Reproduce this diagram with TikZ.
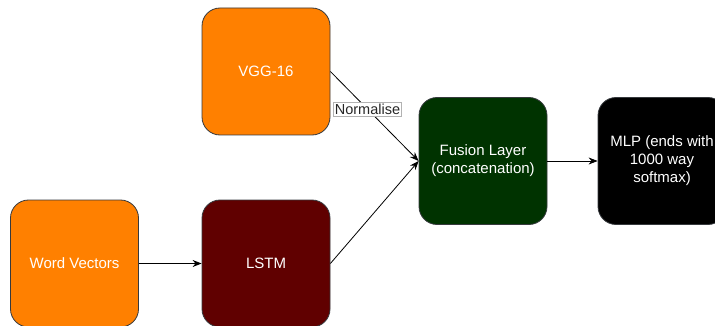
\documentclass[tikz,border=0pt]{standalone}
\usepackage{fontspec}
\setmainfont{Liberation Sans}
\usetikzlibrary{arrows.meta}
\definecolor{orangebox}{HTML}{FF8000}
\definecolor{lstmred}{HTML}{600000}
\definecolor{fusiongreen}{HTML}{003300}
\definecolor{edgegray}{HTML}{36393D}
\begin{document}
\begin{tikzpicture}[x=1pt,y=-1pt,
  blk/.style={draw=edgegray,line width=0.8pt,rounded corners=18pt,minimum width=128pt,minimum height=127pt,inner sep=0pt,align=center,text=white,font=\fontsize{15}{18}\selectfont},
  conn/.style={line width=0.8pt,-{Stealth[length=9pt,width=7pt]}},
  lbl/.style={draw=black!30,fill=white,inner sep=1.5pt,font=\fontsize{14.5}{17}\selectfont,text=black!85}]
\useasboundingbox (0,0) rectangle (715,326);
\node[blk,fill=orangebox] (vgg) at (266,71.5) {VGG-16};
\node[blk,fill=orangebox] (wv) at (74.5,263.5) {Word Vectors};
\node[blk,fill=lstmred] (lstm) at (266,263.5) {LSTM};
\node[blk,fill=fusiongreen] (fus) at (483,161) {Fusion Layer\\(concatenation)};
\node[blk,fill=black] (mlp) at (662,161) {MLP (ends with\\1000 way\\softmax)};
\draw[conn] (wv.east) -- (lstm.west);
\draw[conn] (vgg.east) -- node[lbl,pos=0.42] {Normalise} (fus.west);
\draw[conn] (lstm.east) -- (fus.west);
\draw[conn] (fus.east) -- (mlp.west);
\end{tikzpicture}
\end{document}
